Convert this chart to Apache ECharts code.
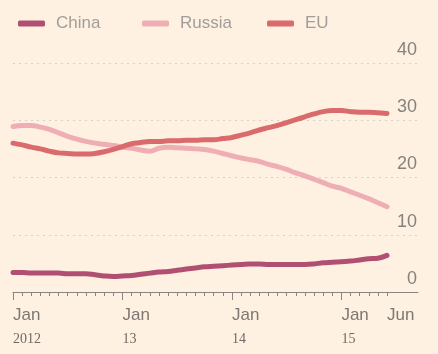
<!DOCTYPE html>
<html>
<head>
<meta charset="utf-8">
<title>China, Russia, EU</title>
<script src="https://cdn.jsdelivr.net/npm/echarts@6/dist/echarts.min.js"></script>
<style>
  html, body { margin: 0; padding: 0; background: #fef1e1; }
  #chart { width: 438px; height: 354px; }
</style>
</head>
<body>
<div id="chart"></div>
<script>
// monthly, Jan 2012 - Jun 2015
const months = [
  '2012-01', '2012-02', '2012-03', '2012-04', '2012-05', '2012-06',
  '2012-07', '2012-08', '2012-09', '2012-10', '2012-11', '2012-12',
  '2013-01', '2013-02', '2013-03', '2013-04', '2013-05', '2013-06',
  '2013-07', '2013-08', '2013-09', '2013-10', '2013-11', '2013-12',
  '2014-01', '2014-02', '2014-03', '2014-04', '2014-05', '2014-06',
  '2014-07', '2014-08', '2014-09', '2014-10', '2014-11', '2014-12',
  '2015-01', '2015-02', '2015-03', '2015-04', '2015-05', '2015-06'
];

const china = [
  3.4, 3.4, 3.3, 3.3, 3.3, 3.3, 3.2, 3.2, 3.2, 3.0, 2.8, 2.7,
  2.8, 2.9, 3.1, 3.3, 3.5, 3.6, 3.8, 4.0, 4.2, 4.4, 4.5, 4.6,
  4.7, 4.8, 4.9, 4.9, 4.8, 4.8, 4.8, 4.8, 4.8, 4.9, 5.1, 5.2,
  5.3, 5.4, 5.6, 5.8, 5.9, 6.4
];
const russia = [
  28.9, 29.1, 29.1, 28.8, 28.4, 27.8, 27.2, 26.7, 26.3, 26.0, 25.8, 25.6,
  25.3, 25.1, 24.8, 24.6, 25.1, 25.3, 25.2, 25.1, 25.0, 24.9, 24.6, 24.2,
  23.8, 23.4, 23.1, 22.8, 22.3, 21.9, 21.4, 20.8, 20.3, 19.7, 19.1, 18.5,
  18.1, 17.5, 16.9, 16.3, 15.6, 14.9
];
const eu = [
  26.0, 25.7, 25.3, 25.0, 24.6, 24.3, 24.2, 24.1, 24.1, 24.2, 24.5, 24.9,
  25.4, 25.9, 26.1, 26.3, 26.3, 26.4, 26.4, 26.5, 26.5, 26.6, 26.6, 26.8,
  27.0, 27.4, 27.8, 28.3, 28.7, 29.1, 29.6, 30.1, 30.6, 31.1, 31.5, 31.7,
  31.7, 31.5, 31.4, 31.4, 31.3, 31.2
];

// x axis labels
const labelIndex = [0, 12, 24, 36, 41];
const labelMonth = ['Jan', 'Jan', 'Jan', 'Jan', 'Jun'];
const labelYear = ['2012', '13', '14', '15', ''];
const yTicks = [0, 10, 20, 30, 40];

const sans = 'Liberation Sans';
const gray = '#8a857f';

const chart = echarts.init(document.getElementById('chart'));

const legendBase = {
  top: 10,
  icon: 'roundRect',
  itemWidth: 27,
  itemHeight: 6,
  itemStyle: { borderWidth: 0 },
  textStyle: {
    color: '#a29d98',
    fontFamily: sans,
    fontSize: 17,
    padding: [0, 0, 0, 6]
  }
};

const option = {
  backgroundColor: '#fef1e1',
  animation: false,
  legend: [
    Object.assign({ data: ['China'], left: 13 }, legendBase),
    Object.assign({ data: ['Russia'], left: 137 }, legendBase),
    Object.assign({ data: ['EU'], left: 262 }, legendBase)
  ],
  grid: [
    // background grid: gridlines and axis line run to the right edge
    { left: 13, right: 20, top: 63, bottom: 62 },
    // data grid: ends at Jun 2015
    { left: 13, width: 374, top: 63, bottom: 62 }
  ],
  xAxis: [
    {
      gridIndex: 0,
      type: 'value',
      min: 0,
      max: 1,
      axisLine: { show: true, lineStyle: { color: gray, width: 1 } },
      axisTick: { show: false },
      axisLabel: { show: false },
      splitLine: { show: false }
    },
    {
      gridIndex: 1,
      type: 'category',
      data: months,
      boundaryGap: false,
      position: 'bottom',
      axisLine: { show: false },
      axisTick: {
        show: true,
        interval: 0,
        length: 4,
        lineStyle: { color: gray, width: 1 }
      },
      axisLabel: {
        interval: (index) => labelIndex.indexOf(index) >= 0,
        align: 'left',
        margin: 12,
        formatter: (value, index) => {
          const i = labelIndex.indexOf(index);
          if (i < 0) return '';
          return labelYear[i]
            ? '{m|' + labelMonth[i] + '}\n{y|' + labelYear[i] + '}'
            : '{m|' + labelMonth[i] + '}';
        },
        rich: {
          m: { fontFamily: sans, fontSize: 17, lineHeight: 22, color: '#7d7873' },
          y: { fontFamily: 'Liberation Serif', fontSize: 14, lineHeight: 26, color: '#6f6a65' }
        }
      },
      splitLine: { show: false }
    },
    {
      // longer ticks at each January
      gridIndex: 1,
      type: 'category',
      data: months,
      boundaryGap: false,
      position: 'bottom',
      axisLine: { show: false },
      axisTick: {
        show: true,
        interval: (index) => index % 12 === 0,
        length: 8,
        lineStyle: { color: gray, width: 1 }
      },
      axisLabel: { show: false },
      splitLine: { show: false }
    }
  ],
  yAxis: [
    {
      gridIndex: 0,
      type: 'value',
      position: 'right',
      min: yTicks[0],
      max: yTicks[yTicks.length - 1],
      interval: 10,
      axisLine: { show: false },
      axisTick: { show: false },
      axisLabel: {
        inside: true,
        margin: 1,
        align: 'right',
        verticalAlign: 'bottom',
        lineHeight: 18,
        padding: [0, 0, 4, 0],
        fontFamily: sans,
        fontSize: 18,
        color: '#87827d'
      },
      splitLine: {
        show: true,
        lineStyle: { color: '#d9d1c6', width: 1, type: [2, 4] }
      }
    },
    {
      gridIndex: 1,
      type: 'value',
      min: yTicks[0],
      max: yTicks[yTicks.length - 1],
      show: false
    }
  ],
  series: [
    { name: 'China', data: china, color: '#b14f72' },
    { name: 'Russia', data: russia, color: '#efaeb3' },
    { name: 'EU', data: eu, color: '#d96b6c' }
  ].map(s => ({
    name: s.name,
    type: 'line',
    xAxisIndex: 1,
    yAxisIndex: 1,
    data: s.data,
    smooth: 0.4,
    showSymbol: false,
    itemStyle: { color: s.color },
    lineStyle: { color: s.color, width: 5, cap: 'round' }
  }))
};

chart.setOption(option);
</script>
</body>
</html>
